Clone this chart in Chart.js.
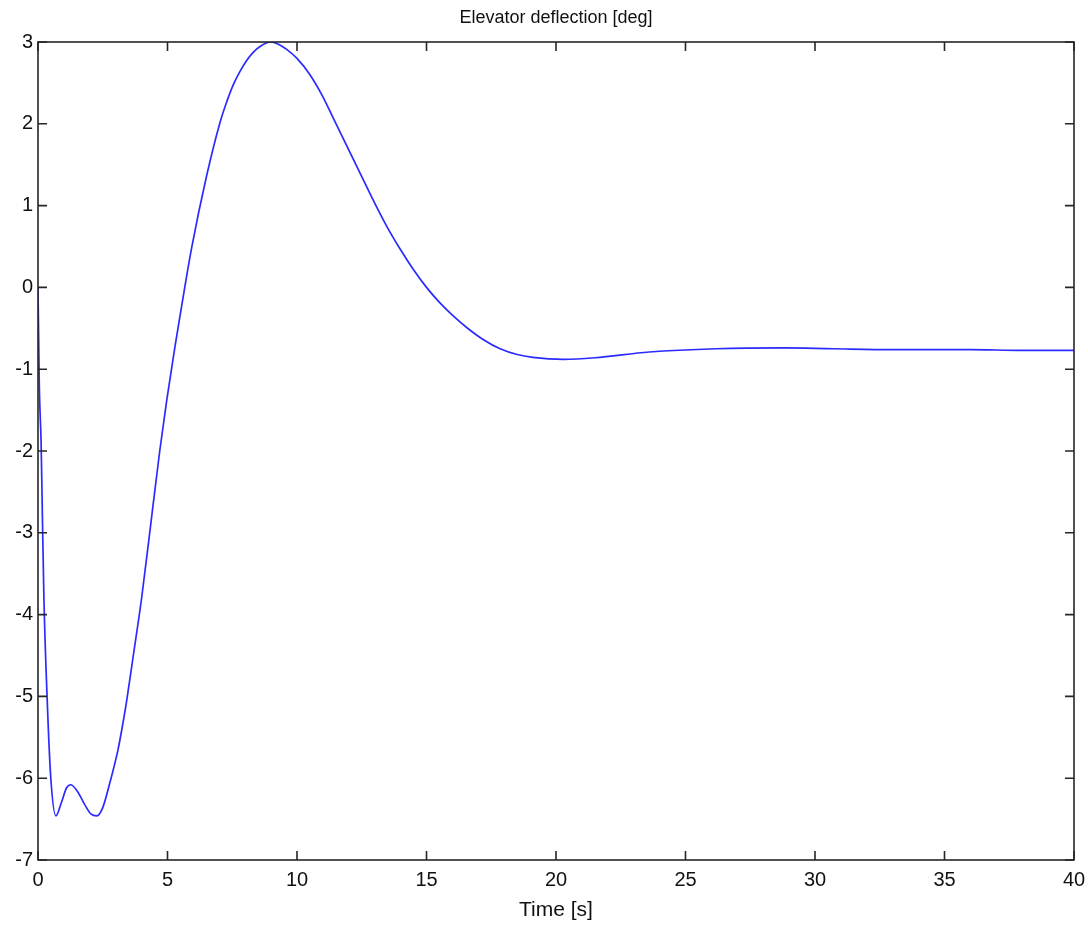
<!DOCTYPE html>
<html>
<head>
<meta charset="utf-8">
<script src="https://cdn.jsdelivr.net/npm/chart.js@4/dist/chart.umd.min.js"></script>
<style>
  html, body { margin: 0; padding: 0; background: #ffffff; }
  #wrap { width: 1088px; height: 925px; }
</style>
</head>
<body>
<div id="wrap"><canvas id="elevatorChart" width="1088" height="925"></canvas></div>
<script>
// Dados
const timeValues = [0, 0.05, 0.12, 0.17, 0.23, 0.35, 0.49, 0.69, 0.9, 1.1, 1.26, 1.5, 1.8, 2.05, 2.27, 2.5, 2.78, 2.95, 3.09, 3.25, 3.42, 3.68, 4.0, 4.39, 4.7, 4.97, 5.29, 5.55, 5.93, 6.5, 7.03, 7.3, 7.53, 7.8, 8.05, 8.3, 8.6, 8.96, 9.3, 9.6, 10.0, 10.5, 11.0, 11.4, 12.43, 13.0, 13.46, 14.0, 14.48, 15.0, 15.52, 16.0, 16.55, 17.2, 17.84, 18.5, 19.1, 20.3, 21.5, 23.6, 26.2, 28.8, 30.7, 33, 36, 38, 40];
const deflectionValues = [0, -1.2, -1.9, -2.8, -3.82, -5.0, -5.98, -6.46, -6.3, -6.12, -6.08, -6.15, -6.32, -6.44, -6.46, -6.36, -6.05, -5.84, -5.65, -5.38, -5.06, -4.5, -3.8, -2.8, -2.0, -1.38, -0.72, -0.22, 0.48, 1.35, 2.02, 2.28, 2.47, 2.64, 2.77, 2.87, 2.95, 3.0, 2.97, 2.91, 2.8, 2.6, 2.33, 2.07, 1.40, 1.03, 0.75, 0.46, 0.225, 0.0, -0.19, -0.34, -0.49, -0.64, -0.75, -0.82, -0.855, -0.88, -0.86, -0.79, -0.75, -0.74, -0.75, -0.76, -0.76, -0.77, -0.77];
const xTicks = [0, 5, 10, 15, 20, 25, 30, 35, 40];
const yTicks = [-7, -6, -5, -4, -3, -2, -1, 0, 1, 2, 3];
const chartTitle = 'Elevator deflection [deg]';

const fontFamily = '"Liberation Sans", Arial, Helvetica, sans-serif';

// Caixa, marcações internas (estilo MATLAB) e título centrado na área do gráfico
const boxTicksPlugin = {
    id: 'boxTicks',
    afterDatasetsDraw(chart) {
        const ctx = chart.ctx;
        const area = chart.chartArea;
        const xs = chart.scales.x;
        const ys = chart.scales.y;
        const len = 9;
        ctx.save();
        ctx.strokeStyle = '#262626';
        ctx.lineWidth = 1.6;
        ctx.strokeRect(area.left, area.top, area.right - area.left, area.bottom - area.top);
        ctx.beginPath();
        xTicks.forEach(function(v) {
            const px = xs.getPixelForValue(v);
            ctx.moveTo(px, area.bottom);
            ctx.lineTo(px, area.bottom - len);
            ctx.moveTo(px, area.top);
            ctx.lineTo(px, area.top + len);
        });
        yTicks.forEach(function(v) {
            const py = ys.getPixelForValue(v);
            ctx.moveTo(area.left, py);
            ctx.lineTo(area.left + len, py);
            ctx.moveTo(area.right, py);
            ctx.lineTo(area.right - len, py);
        });
        ctx.stroke();

        // Título
        ctx.fillStyle = '#111111';
        ctx.font = '18px ' + fontFamily;
        ctx.textAlign = 'center';
        ctx.textBaseline = 'middle';
        ctx.fillText(chartTitle, (area.left + area.right) / 2, 18);
        ctx.restore();
    }
};

const ctx = document.getElementById('elevatorChart').getContext('2d');

new Chart(ctx, {
    type: 'line',
    data: {
        datasets: [{
            data: timeValues.map(function(t, i) { return { x: t, y: deflectionValues[i] }; }),
            borderColor: 'rgba(20, 20, 255, 0.9)',
            borderWidth: 1.7,
            pointRadius: 0,
            fill: false,
            cubicInterpolationMode: 'monotone'
        }]
    },
    options: {
        responsive: false,
        animation: false,
        layout: {
            padding: { left: 0, right: 0, top: 42, bottom: 0 }
        },
        plugins: {
            legend: { display: false },
            tooltip: { enabled: false },
            title: { display: false }
        },
        scales: {
            x: {
                type: 'linear',
                min: 0,
                max: 40,
                afterBuildTicks: function(scale) {
                    scale.ticks = xTicks.map(function(v) { return { value: v }; });
                },
                grid: { display: false, drawTicks: false },
                border: { display: false },
                ticks: {
                    color: '#111111',
                    font: { family: fontFamily, size: 20 },
                    padding: 8,
                    maxRotation: 0
                },
                title: {
                    display: true,
                    text: 'Time [s]',
                    color: '#111111',
                    font: { family: fontFamily, size: 21 },
                    padding: { top: 0, bottom: 2 }
                },
                afterFit: function(scale) {
                    scale.height = 65;
                    scale.paddingLeft = 0;
                    scale.paddingRight = 14;
                }
            },
            y: {
                type: 'linear',
                min: -7,
                max: 3,
                afterBuildTicks: function(scale) {
                    scale.ticks = yTicks.map(function(v) { return { value: v }; });
                },
                grid: { display: false, drawTicks: false },
                border: { display: false },
                ticks: {
                    color: '#111111',
                    font: { family: fontFamily, size: 20 },
                    padding: 5
                },
                afterFit: function(scale) {
                    scale.width = 38;
                }
            }
        }
    },
    plugins: [boxTicksPlugin]
});
</script>
</body>
</html>
